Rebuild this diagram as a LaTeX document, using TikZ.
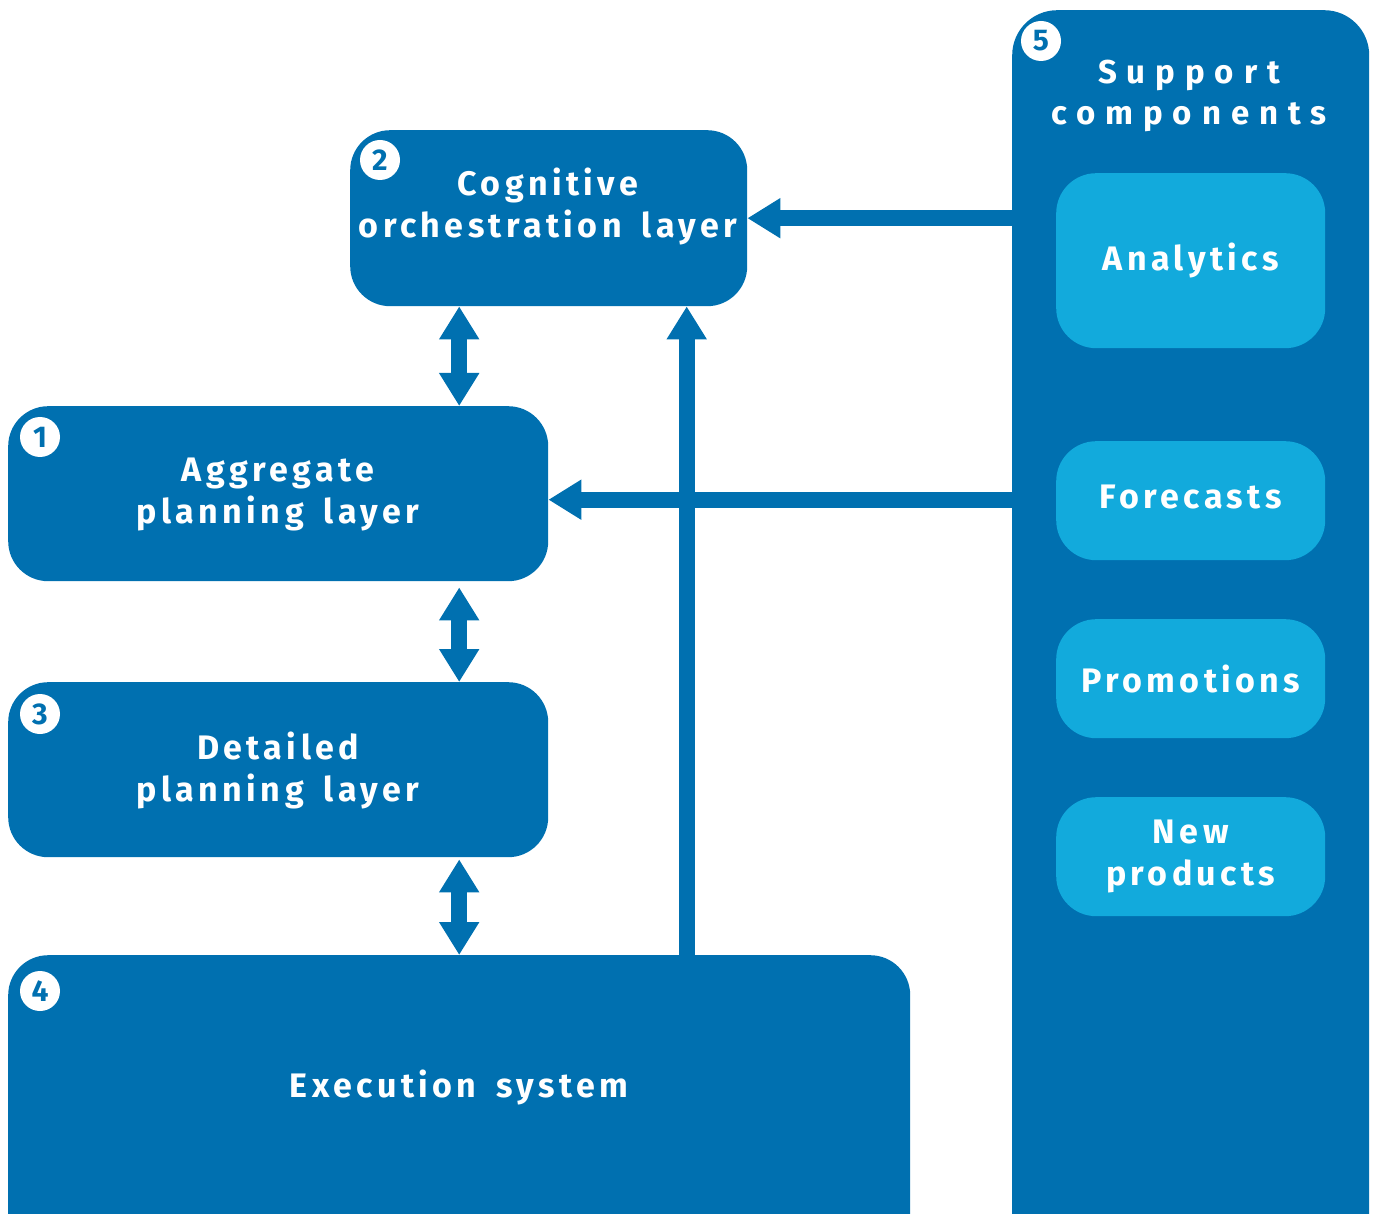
\documentclass[tikz,border=0pt]{standalone}
\usepackage{fontspec}
\setmainfont{Fira Sans}
\newfontfamily\lblfont[LetterSpace=13,WordSpace=1.6]{Fira Sans}
\newfontfamily\widefont[LetterSpace=30]{Fira Sans}
\usetikzlibrary{arrows.meta}
\definecolor{dblue}{HTML}{0070B0}
\definecolor{lblue}{HTML}{12AADC}
\begin{document}
\begin{tikzpicture}[x=1pt,y=-1pt,
  box/.style={fill=dblue, rounded corners=40pt, inner sep=0pt, anchor=north west},
  sub/.style={fill=lblue, rounded corners=40pt, inner sep=0pt, anchor=north west, minimum width=269pt},
  txt/.style={text=white, align=center, inner sep=0pt, font=\lblfont\bfseries\fontsize{34}{42}\selectfont},
  wtxt/.style={text=white, align=center, inner sep=0pt, font=\widefont\bfseries\fontsize{33}{41}\selectfont},
  num/.style={circle, fill=white, minimum size=40pt, inner sep=0pt, text=dblue, font=\bfseries\fontsize{30}{30}\selectfont},
  arr/.style={draw=dblue, line width=16pt, -{Triangle[width=38pt,length=33pt]}},
  dbl/.style={draw=dblue, line width=16pt, {Triangle[width=38pt,length=33pt]}-{Triangle[width=38pt,length=33pt]}}
]
\clip (0,0) rectangle (1377,1214);
% boxes
\node[box, minimum width=397pt, minimum height=176pt] (b2) at (350,130) {};
\node[box, minimum width=540pt, minimum height=175pt] (b1) at (8,406) {};
\node[box, minimum width=540pt, minimum height=175pt] (b3) at (8,682) {};
\node[box, minimum width=902pt, minimum height=320pt] (b4) at (8,955) {};
\node[box, rounded corners=45pt, minimum width=357pt, minimum height=1260pt] (b5) at (1012,10) {};
% support sub-boxes
\node[sub, minimum height=175pt] (s1) at (1056,173) {};
\node[sub, minimum height=119pt] (s2) at (1056,441) {};
\node[sub, minimum height=119pt] (s3) at (1056,619) {};
\node[sub, minimum height=119pt] (s4) at (1056,797) {};
% texts
\node[txt] (t2) at (548,206) {Cognitive\\orchestration layer};
\node[txt] (t1) at (278,494) {Aggregate\\planning layer};
\node[txt] (t3) at (278,770) {Detailed\\planning layer};
\node[txt] (t4) at (459,1087) {Execution system};
\node[wtxt] (t5) at (1189,96) {Support\\components};
\node[txt] (u1) at (s1.center) {Analytics};
\node[txt] (u2) at ([yshift=4pt]s2.center) {Forecasts};
\node[txt] (u3) at (s3.center) {Promotions};
\node[txt] (u4) at (s4.center) {New\\products};
% numbers
\node[num] (n2) at (380,160) {2};
\node[num] (n1) at (40,437) {1};
\node[num] (n3) at (40,714) {3};
\node[num] (n4) at (40,991) {4};
\node[num] (n5) at (1041,41) {5};
% connectors
\draw[arr] (b2.east -| b5.west) -- (b2.east);
\draw[arr] ([yshift=-6pt]b1.east -| b5.west) -- ([yshift=-6pt]b1.east);
\draw[arr] ([xshift=138pt]b2.south |- b4.north) -- ([xshift=138pt]b2.south);
\draw[dbl] ([xshift=181pt]b1.north |- b2.south) -- ([xshift=181pt]b1.north);
\draw[dbl] ([xshift=181pt,yshift=-6pt]b1.south) -- ([xshift=181pt]b3.north);
\draw[dbl] ([xshift=181pt,yshift=-2pt]b3.south) -- ([xshift=181pt]b3.south |- b4.north);
\end{tikzpicture}
\end{document}
